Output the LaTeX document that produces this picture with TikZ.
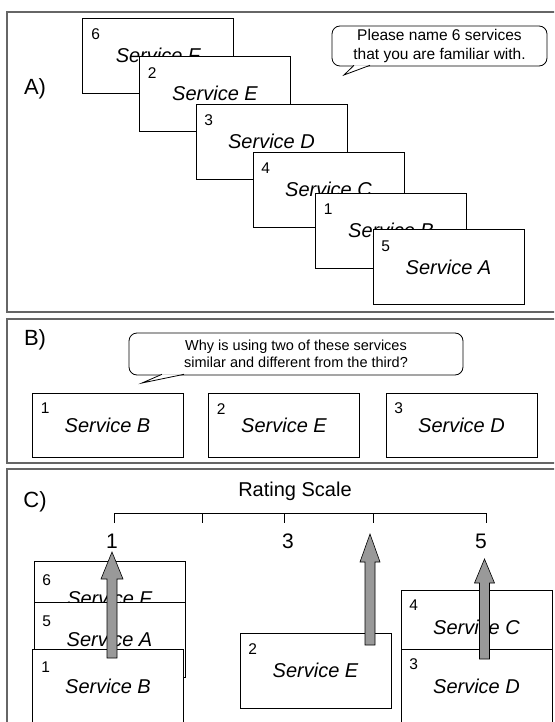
\documentclass[tikz,border=0pt]{standalone}
\usepackage{fontspec}
\setmainfont{Liberation Sans}
\usepackage{tikz}

\begin{document}
\begin{tikzpicture}[
  x=1pt, y=-1pt,
  panel/.style={draw=black!60, line width=1.5pt},
  svc/.style={draw, fill=white, line width=0.8pt, minimum width=151pt, minimum height=75pt, inner sep=0pt, font=\fontsize{20}{24}\selectfont\itshape},
  svcb/.style={svc, minimum height=64pt},
  num/.style={anchor=west, inner sep=0pt, font=\fontsize{15.5}{18}\selectfont},
  tag/.style={font=\fontsize{22}{26}\selectfont},
  bubble/.style={draw, fill=white, line width=0.8pt, rounded corners=8pt, align=center, inner sep=0pt},
  tail/.style={draw, fill=white, line width=0.8pt, line join=miter},
  bar/.style={draw, fill=black!40, line width=0.6pt},
  tick/.style={font=\fontsize{21}{24}\selectfont}
]
\clip (0,0) rectangle (554,722);
\fill[white] (0,0) rectangle (554,722);

% A) naming services
\draw[panel] (7,12) rectangle (562,312);
\node[tag] (tagA) at (35,89) {A)};
\node[svc] (a6) at (158,55.5) {Service F};
\node[num] (a6n) at ([shift={(9,17)}]a6.north west) {6};
\node[svc] (a2) at (215,93.5) {Service E};
\node[num] (a2n) at ([shift={(8.5,17)}]a2.north west) {2};
\node[svc] (a3) at (271.5,141.5) {Service D};
\node[num] (a3n) at ([shift={(8.5,17)}]a3.north west) {3};
\node[svc] (a4) at (328.5,189.5) {Service C};
\node[num] (a4n) at ([shift={(8.5,17)}]a4.north west) {4};
\node[svc] (a1) at (391,230.5) {Service B};
\node[num] (a1n) at ([shift={(8.5,17)}]a1.north west) {1};
\node[svc] (a5) at (448.5,267) {Service A};
\node[num] (a5n) at ([shift={(8.5,17)}]a5.north west) {5};
\node[bubble, minimum width=215pt, minimum height=40pt, font=\fontsize{15.5}{19}\selectfont] (askA) at (439.5,46)
  {Please name 6 services\\that you are familiar with.};
\draw[tail] (354,65.3) -- (344,75) -- (370,65.3);

% B) triad question
\draw[panel] (7,319) rectangle (562,463);
\node[tag] (tagB) at (35,340) {B)};
\node[bubble, minimum width=334pt, minimum height=42pt, font=\fontsize{14.5}{17}\selectfont] (askB) at (296,354)
  {Why is using two of these services\\similar and different from the third?};
\draw[tail] (162,374.3) -- (142,383) -- (184,374.3);
\node[svcb] (b1) at (107.5,425) {Service B};
\node[num] (b1n) at ([shift={(9,16)}]b1.north west) {1};
\node[svcb] (b2) at (284,425) {Service E};
\node[num] (b2n) at ([shift={(8.5,16)}]b2.north west) {2};
\node[svcb] (b3) at (461.5,425) {Service D};
\node[num] (b3n) at ([shift={(8.5,16)}]b3.north west) {3};

% C) rating scale
\draw[panel] (7,469) rectangle (562,740);
\node[tag] (tagC) at (35,502) {C)};
\node[font=\fontsize{20}{24}\selectfont] (rate) at (295,491) {Rating Scale};
\draw[line width=0.8pt] (114,523) -- (114,513) -- (486,513) -- (486,523);
\foreach \x in {202.5,284.5,373}
  \draw[line width=0.8pt] (\x,513) -- (\x,523);
\node[tick] (r1) at (112,541) {1};
\node[tick] (r3) at (288,541) {3};
\node[tick] (r5) at (481,541) {5};

\node[svc] (c6) at (109.5,598.5) {Service F};
\node[num] (c6n) at ([shift={(8.5,19.5)}]c6.north west) {6};
\node[svc] (c5) at (109.5,639.5) {Service A};
\node[num] (c5n) at ([shift={(8.5,20)}]c5.north west) {5};
\node[svc] (c1) at (108,686.5) {Service B};
\node[num] (c1n) at ([shift={(9,19)}]c1.north west) {1};
\node[svc] (c2) at (315.5,670.5) {Service E};
\node[num] (c2n) at ([shift={(8.5,16)}]c2.north west) {2};
\node[svc] (c4) at (476.5,627.5) {Service C};
\node[num] (c4n) at ([shift={(8.5,16)}]c4.north west) {4};
\node[svc] (c3) at (476.5,686.5) {Service D};
\node[num] (c3n) at ([shift={(8.5,15.5)}]c3.north west) {3};

\draw[bar] (107,658) -- (107,579) -- (101,579) -- (112,552) -- (123,579) -- (117,579) -- (117,658) -- cycle;
\draw[bar] (365,645) -- (365,562) -- (360,562) -- (370,534) -- (380,562) -- (375,562) -- (375,645) -- cycle;
\draw[bar] (479.5,659) -- (479.5,583) -- (474.5,583) -- (484.5,559) -- (494.5,583) -- (489.5,583) -- (489.5,659) -- cycle;
\end{tikzpicture}
\end{document}
